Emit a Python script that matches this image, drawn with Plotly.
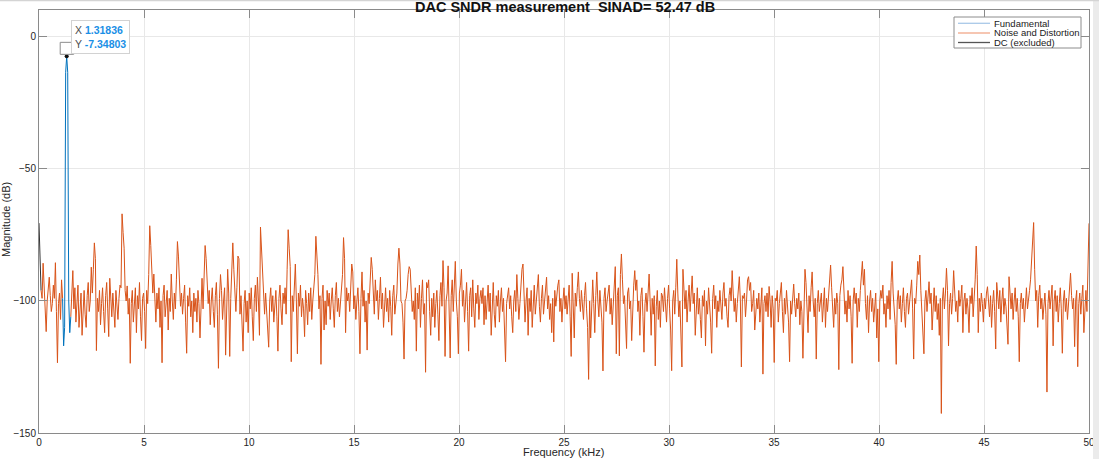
import plotly.graph_objects as go

# ---------------- data ----------------
FS_KHZ = 100.0          # sample rate (kHz)
NFFT = 2048             # FFT length -> bin width 0.048828 kHz
DF = FS_KHZ / NFFT

# Noise and distortion spectrum (dB), one value per FFT bin 0..1024
# (None = bins excluded: DC and fundamental)
noise_db = [
    None, None, -96, -99, -85.7, -97, -104, -111.6, -100, -95, -91, -98, -104, -101, -94, -99, -85.5, -104, -123.4, -101, -97, -107, -92, -99, None, None, None,
    None, None, None, None, -106, -97, -88.5, -103, -95, -108, -99, -94, -110, -102, -97, -113, -100, -96, -105, -110, -98, -93, -104, -100, -87.2, -97, -88,
    -78, -84, -118.8, -99, -104, -96, -109, -101, -95, -104, -112, -98, -93, -103, -113.5, -91.4, -100, -106, -97, -102, -110, -96, -101, -107, -99, -94, -95,
    -67, -74, -80, -96, -100, -94.3, -105, -99, -123.6, -101, -96, -108, -100, -95, -112, -98, -103, -93, -106, -115, -99, -97, -104, -118, -96, -101, -90,
    -71.5, -79, -86, -97, -89.8, -101, -108, -97, -103, -95, -110, -100, -123.4, -98, -94, -106, -101, -96, -111, -99, -104, -89.8, -100, -107, -97, -103, -92,
    -77.5, -83, -90, -102, -97, -105, -99, -94, -108, -119.8, -98, -102, -95, -106, -100, -112, -97, -104, -99, -108, -96, -101, -114, -98, -91.4, -103, -92,
    -79, -84, -93, -101, -96, -109, -100, -95, -104, -110, -98, -93, -105, -125.5, -99, -90, -96, -107, -100, -95, -120.5, -98, -88, -97, -121, -99, -88,
    -78, -88, -97, -104, -95, -83, -84, -105, -98, -110, -119, -101, -96, -108, -100, -112, -97, -103, -95, -106, -115, -99, -94, -104, -91, -100, -113,
    -72, -80, -92, -99, -105, -97, -103, -109, -117.5, -100, -95, -104, -98, -108, -101, -96, -106, -119, -99, -94, -103, -109, -97, -101, -95, -105, -88,
    -73, -80, -87, -123, -98, -104, -95, -86, -100, -120, -97, -102, -94, -106, -99, -103, -113.5, -96, -101, -109, -97, -104, -95, -107, -100, -96, -90,
    -75.5, -82, -90, -103, -98, -124, -99, -94, -111, -100, -109, -96, -102, -97, -107, -100, -95, -103, -110, -98, -93, -104, -99, -106, -101, -97, -90,
    -76, -84, -112, -95, -100, -97, -104, -93, -86, -89, -103, -98, -107, -100, -95, -104, -120, -99, -89, -102, -96, -108, -100, -118.6, -97, -101, -91,
    -83.5, -88, -98, -105, -92, -100, -96, -107, -99, -91, -103, -97, -110, -101, -95, -104, -99, -108, -96, -102, -113, -98, -94, -105, -100, -97, -86,
    -80, -86, -100, -101, -108, -122, -100, -99, -96, -90, -87, -88, -98, -104, -100, -107, -95, -119, -97, -103, -94, -110, -99, -92, -105, -101, -127,
    -93, -95, -92, -104, -113, -99, -106, -97, -110, -101, -96, -105, -115, -98, -93, -102, -84.7, -95, -121, -100, -97, -86.7, -103, -121.6, -98, -92, -104,
    -90, -85, -100, -106, -120, -97, -94, -88, -102, -96, -108, -99, -93, -104, -119, -98, -95, -106, -92, -103, -110, -97, -101, -94, -107, -99, -96,
    -101, -95, -109, -98, -107, -100, -94, -104, -97, -113, -99, -93, -105, -110, -98, -102, -96, -108, -100, -95, -104, -99, -111, -123, -101, -97, -95,
    -103, -98, -106, -112, -100, -96, -104, -90, -99, -107, -101, -94, -88, -86, -97, -108, -100, -95, -113, -99, -104, -96, -110, -101, -94, -105, -99,
    -97, -90, -102, -108, -99, -94, -105, -100, -96, -91, -103, -98, -107, -101, -112, -99, -115.5, -96, -102, -97, -94, -92, -104, -99, -108, -100, -95,
    -103, -98, -105, -99, -94, -106, -121, -89.5, -100, -114, -97, -102, -95, -89, -99, -104, -96, -101, -107, -98, -93, -103, -110, -129.7, -100, -114, -97,
    -92, -101, -112, -98, -89, -100, -106, -96, -103, -108, -126.5, -99, -95, -104, -100, -97, -94, -105, -99, -109, -101, -96, -87, -120, -98, -95, -120.8,
    -90, -82.2, -92, -101, -98, -106, -118, -97, -95, -103, -100, -115, -99, -94, -88.5, -96, -92, -104, -100, -113, -98, -95, -106, -119.4, -101, -97, -104,
    -96, -89.8, -100, -113, -99, -105, -98, -124.6, -102, -96, -107, -100, -110, -97, -98, -104, -95, -101, -108, -99, -94, -103, -111, -126.4, -100, -96, -105,
    -95, -84.2, -97, -106, -100, -110, -125, -88, -98, -103, -96, -108, -100, -94, -104, -99, -90.5, -101, -97, -113, -100, -95, -105, -99, -107, -114, -98,
    -102, -96, -117, -100, -105, -95, -101, -108, -119.8, -99, -94, -103, -98, -110, -100, -104, -96, -101, -107, -97, -93, -102, -99, -106, -110, -98, -95,
    -100, -88.5, -97, -104, -99, -108, -101, -96, -90.8, -100, -125, -98, -99, -97, -106, -100, -92, -90.8, -96, -93, -104, -101, -96, -111, -105, -99, -103,
    -97, -108, -100, -95, -127.7, -101, -98, -104, -97, -106, -94.5, -100, -110, -98, -103, -123.3, -99, -100, -96, -108, -101, -97, -93, -104, -112, -99, -105,
    -96, -102, -108, -123, -100, -105, -98, -93.6, -101, -106, -99, -103, -97, -109, -100, -104, -121.7, -99, -88, -93, -101, -112, -98, -104, -95, -89, -100,
    -106, -99, -122, -101, -96, -104, -100, -97, -108, -102, -95, -110, -99, -104, -98, -93, -86.4, -95, -103, -110, -99, -105, -97, -101, -126, -98, -94,
    -92, -87, -99, -105, -100, -108, -96, -103, -98, -106, -123.6, -100, -95, -101, -97, -110, -99, -104, -96, -91, -85, -94, -88, -101, -107, -98, -112,
    -100, -96, -104, -99, -108, -101, -97, -114, -103, -123, -100, -96, -99, -94, -105, -101, -110, -98, -103, -96, -107, -93, -85, -97, -104, -109, -124,
    -100, -96, -103, -98, -108, -101, -95, -104, -110, -99, -97, -105, -100, -96, -92, -103, -122, -99, -101, -94, -85, -90, -82.6, -96, -103, -108, -120,
    -100, -96, -104, -99, -92.7, -101, -97, -111, -100, -95, -104, -98, -107, -101, -113, -99, -142.6, -100, -95, -103, -97, -87.6, -96, -117, -101, -97, -105,
    -99, -88.5, -97, -104, -100, -108, -96, -102, -99, -94, -112, -100, -97, -105, -99, -103, -112, -98, -101, -95, -106, -100, -92, -79.2, -90, -112, -99,
    -104, -97, -101, -108, -99, -103, -97, -94.6, -100, -106, -98, -110, -101, -96, -104, -118.2, -93, -99, -103, -96, -108, -100, -95, -105, -99, -102, -108,
    -116.4, -90.8, -98, -103, -97, -107, -100, -95, -104, -99, -106, -123, -101, -97, -103, -99, -108, -100, -95, -103, -98, -96, -92, -84, -76, -70.3, -88,
    -100, -96, -110, -98, -94, -103, -99, -107, -100, -97, -105, -134.5, -101, -96, -103, -99, -94, -117, -100, -96, -104, -98, -108, -101, -95, -103, -119.8,
    -100, -96, -104, -99, -107, -101, -95, -89.5, -98, -103, -99, -117.3, -100, -96, -124.9, -101, -97, -105, -99, -94, -112, -100, -96, -104, -90, -70.6,
]

# Fundamental (bins 23..31)
fund_first_bin = 23
fund_db = [-99, -117, -110, -13.4, -7.34803, -13.4, -100, -112, -106]

# DC (excluded), bins 0..2
dc_db = [-70.5, -85, -96]

title_text = "DAC SNDR measurement \u00a0SINAD= 52.47 dB"
x_label = "Frequency (kHz)"
y_label = "Magnitude (dB)"
x_ticks = [0, 5, 10, 15, 20, 25, 30, 35, 40, 45, 50]
y_ticks = [-150, -100, -50, 0]
legend_names = ["Fundamental", "Noise and Distortion", "DC (excluded)"]

# ---------------- styling ----------------
C_FUND = "#0072BD"
C_NOISE = "#D95319"
C_DC = "#333333"
AXIS_C = "#8a8a8a"
TXT_C = "#262626"
FONT = "Liberation Sans, Arial, sans-serif"

fig = go.Figure()

fig.add_trace(go.Scatter(
    x0=0, dx=DF, y=noise_db, mode="lines", name=legend_names[1],
    line=dict(color=C_NOISE, width=1), connectgaps=False, showlegend=False,
    hoverinfo="skip"))

fund_x = [(fund_first_bin + i) * DF for i in range(len(fund_db))]
fig.add_trace(go.Scatter(
    x=fund_x, y=fund_db, mode="lines", name=legend_names[0],
    line=dict(color=C_FUND, width=1), showlegend=False, hoverinfo="skip"))

fig.add_trace(go.Scatter(
    x0=0, dx=DF, y=dc_db, mode="lines", name=legend_names[2],
    line=dict(color=C_DC, width=1), showlegend=False, hoverinfo="skip"))

# data tip on the fundamental peak
pk = max(range(len(fund_db)), key=lambda i: fund_db[i])
pk_x, pk_y = fund_x[pk], fund_db[pk]
fig.add_trace(go.Scatter(
    x=[pk_x], y=[pk_y], mode="markers",
    marker=dict(color="#111111", size=4), showlegend=False, hoverinfo="skip"))

# ---------------- layout ----------------
L, R, T, B = 39, 10, 10, 26
W, H = 1099, 459
PW, PH = W - L - R, H - T - B


def px_x(px):
    return (px - L) / PW


def px_y(py):
    return (H - B - py) / PH


axis_common = dict(
    showline=True, linecolor=AXIS_C, linewidth=1, mirror="ticks",
    ticks="inside", ticklen=8, tickcolor=AXIS_C, tickwidth=1,
    showgrid=True, gridcolor="#e8e8e8", gridwidth=1, zeroline=False,
    automargin=False,
    tickfont=dict(family=FONT, size=10, color=TXT_C),
)

fig.update_layout(
    width=W, height=H,
    margin=dict(l=L, r=R, t=T, b=B, pad=0, autoexpand=False),
    paper_bgcolor="white", plot_bgcolor="white",
    showlegend=False,
    xaxis=dict(range=[0, 50], tickvals=x_ticks, **axis_common),
    yaxis=dict(range=[-150, 10.2], tickvals=y_ticks, **axis_common),
    font=dict(family=FONT, color=TXT_C),
)

ann = []
ann.append(dict(text="<b>" + title_text + "</b>", xref="paper", yref="paper",
                x=px_x(565), y=px_y(7), xanchor="center", yanchor="middle",
                showarrow=False, font=dict(family=FONT, size=14.5, color="#111111")))
ann.append(dict(text=x_label, xref="paper", yref="paper", x=px_x(563), y=px_y(452),
                xanchor="center", yanchor="middle", showarrow=False,
                font=dict(family=FONT, size=11, color=TXT_C)))
ann.append(dict(text=y_label, xref="paper", yref="paper", x=px_x(6), y=px_y(220),
                xanchor="center", yanchor="middle", textangle=-90, showarrow=False,
                font=dict(family=FONT, size=11, color=TXT_C)))

# data tip box
tip_blue = "#1a8fe6"
ann.append(dict(
    text=("X <b><span style='color:%s'>%.5f</span></b><br>"
          "Y <b><span style='color:%s'>%.5f</span></b>") % (tip_blue, pk_x, tip_blue, pk_y),
    xref="x", yref="y", x=pk_x, y=pk_y, ax=34, ay=-19, axref="pixel", ayref="pixel",
    showarrow=True, arrowcolor="rgba(0,0,0,0)", arrowwidth=0.1,
    align="left", bgcolor="white", bordercolor="#d2d2d2", borderwidth=1, borderpad=3,
    font=dict(family=FONT, size=10.5, color="#4d4d4d")))

shapes = []
# small marker box of the data tip
shapes.append(dict(type="rect", xref="x", yref="y", xsizemode="pixel", ysizemode="pixel",
                   xanchor=pk_x, yanchor=pk_y, x0=-6.5, x1=7, y0=2, y1=14,
                   line=dict(color="#8c8c8c", width=1), fillcolor="rgba(255,255,255,0.9)",
                   layer="above"))

# manual legend (MATLAB style compact box)
lx0, lx1, ly0, ly1 = 954, 1081, 17, 48
shapes.append(dict(type="rect", xref="paper", yref="paper",
                   x0=px_x(lx0), x1=px_x(lx1), y0=px_y(ly1), y1=px_y(ly0),
                   line=dict(color="#8c8c8c", width=1), fillcolor="white", layer="above"))
leg_rows = [23.3, 33.0, 42.5]
leg_cols = ["#a9c9e8", "#f2a788", "#555555"]
for name, yy, cc in zip(legend_names, leg_rows, leg_cols):
    shapes.append(dict(type="line", xref="paper", yref="paper",
                       x0=px_x(958), x1=px_x(990), y0=px_y(yy), y1=px_y(yy),
                       line=dict(color=cc, width=1.3), layer="above"))
    ann.append(dict(text=name, xref="paper", yref="paper", x=px_x(992), y=px_y(yy),
                    xanchor="left", yanchor="middle", showarrow=False,
                    font=dict(family=FONT, size=9.5, color="#1a1a1a")))

# figure frame bits: right gray strip and top line
shapes.append(dict(type="rect", xref="paper", yref="paper",
                   x0=px_x(1093), x1=px_x(1100), y0=px_y(460), y1=px_y(-1),
                   line=dict(width=0), fillcolor="#ebebeb", layer="above"))
shapes.append(dict(type="line", xref="paper", yref="paper",
                   x0=px_x(0), x1=px_x(1100), y0=px_y(0.5), y1=px_y(0.5),
                   line=dict(color="#d4d4d4", width=1.5), layer="above"))

fig.update_layout(annotations=ann, shapes=shapes)

fig.write_html(
    "out.html",
    config={"displayModeBar": False},
    post_script="document.body.style.margin='0px';document.body.style.padding='0px';",
)
